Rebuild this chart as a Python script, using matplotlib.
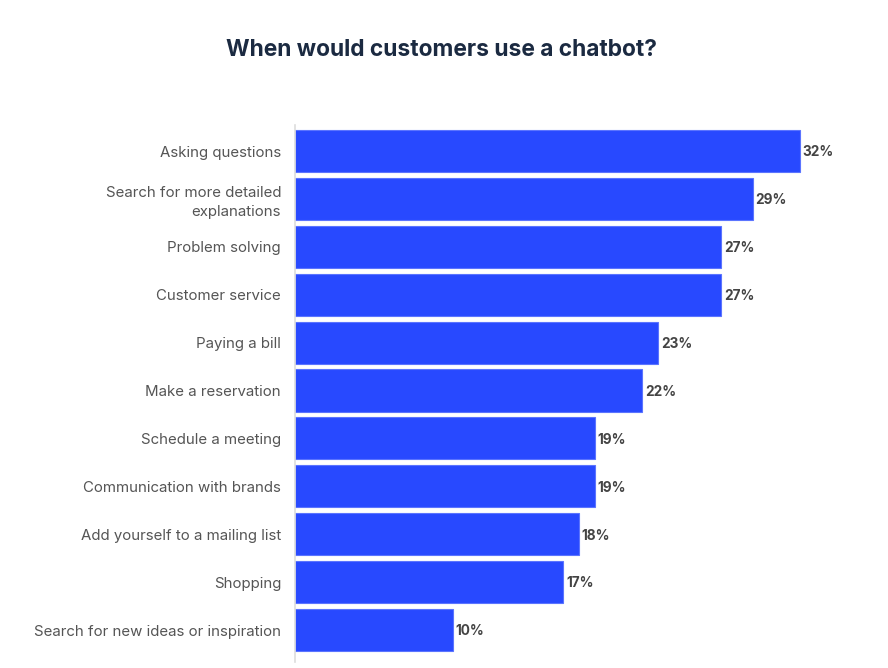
import matplotlib
matplotlib.use("Agg")
import matplotlib.pyplot as plt

categories = [
    "Asking questions",
    "Search for more detailed\nexplanations",
    "Problem solving",
    "Customer service",
    "Paying a bill",
    "Make a reservation",
    "Schedule a meeting",
    "Communication with brands",
    "Add yourself to a mailing list",
    "Shopping",
    "Search for new ideas or inspiration",
]
values = [32, 29, 27, 27, 23, 22, 19, 19, 18, 17, 10]

BAR_COLOR = "#2849FF"
plt.rcParams["font.family"] = ["Inter", "DejaVu Sans"]

fig = plt.figure(figsize=(8.88, 6.68), dpi=100)
ax = fig.add_axes([295 / 888, 6 / 668, (860 - 295) / 888, (662 - 125) / 668])

pos = list(range(len(categories)))
bars = ax.barh(pos, values, height=0.88, color=BAR_COLOR,
               edgecolor="#5B74FF", linewidth=0.8)

# etiquettes de valeur
for b, v in zip(bars, values):
    ax.annotate(f"{v}%", (b.get_width(), b.get_y() + b.get_height() / 2),
                xytext=(2, -1), textcoords="offset points",
                va="center", ha="left", fontsize=9.8, fontweight="bold",
                color="#444444")

ax.set_yticks(pos)
ax.set_yticklabels(categories, fontsize=10.8, color="#555555", linespacing=1.45)
ax.tick_params(axis="y", length=0, pad=10)
ax.set_xticks([])
ax.set_xlim(0, 35.8)
ax.set_ylim(10.668, -0.543)

for s in ["top", "right", "bottom"]:
    ax.spines[s].set_visible(False)
ax.spines["left"].set_color("#DDDDDD")
ax.spines["left"].set_linewidth(1.2)

fig.text(0.497, 1 - 50 / 668, "When would customers use a chatbot?",
         ha="center", va="center", fontsize=16.4, fontweight="bold",
         color="#1B2A41")

fig.savefig("out.png", dpi=100)
